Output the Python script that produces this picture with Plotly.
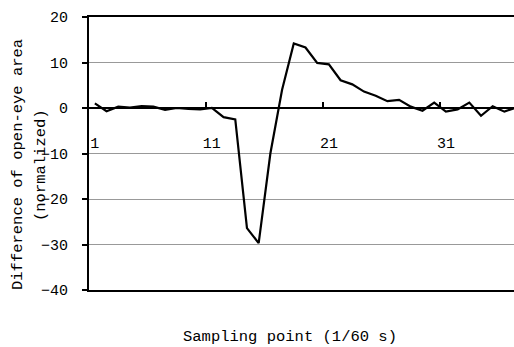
import plotly.graph_objects as go

# Sampling points (1/60 s) and normalized difference of open-eye area
sampling_points = list(range(1, 38))
open_eye_diff = [1.0, -0.7, 0.3, 0.1, 0.4, 0.3, -0.4, 0.0, -0.2, -0.3,
                 0.0, -2.0, -2.5, -26.4, -29.7, -10.0, 4.0, 14.2, 13.3, 9.9,
                 9.6, 6.1, 5.2, 3.6, 2.7, 1.5, 1.8, 0.3, -0.6, 1.2,
                 -0.8, -0.3, 1.2, -1.7, 0.4, -0.8, 0.1]

x_tick_vals = [1, 11, 21, 31]
x_tick_text = ["1", "11", "21", "31"]
x_boundary_ticks = [10.5, 20.5, 30.5]
y_tick_vals = [-40, -30, -20, -10, 0, 10, 20]

FONT = "Liberation Mono"

fig = go.Figure()
fig.add_trace(go.Scatter(
    x=sampling_points, y=open_eye_diff, mode="lines",
    line=dict(color="black", width=2.2),
    showlegend=False, hoverinfo="skip",
))
# helper trace for frame axis
fig.add_trace(go.Scatter(x=[], y=[], xaxis="x2", yaxis="y",
                         showlegend=False, hoverinfo="skip"))

fig.update_layout(
    width=514, height=347,
    margin=dict(l=89, r=0, t=17, b=57),
    paper_bgcolor="white", plot_bgcolor="white",
    font=dict(family=FONT, size=15, color="black"),
    xaxis=dict(
        range=[0.5, 36.82],
        anchor="free", position=40 / 60,
        tickmode="array", tickvals=x_tick_vals, ticktext=x_tick_text,
        ticks="", ticklabelstandoff=21,
        showline=True, linecolor="black", linewidth=2,
        showgrid=False, zeroline=False,
        minor=dict(tickmode="array", tickvals=x_boundary_ticks,
                   ticks="inside", ticklen=5, tickwidth=1.5,
                   tickcolor="black", showgrid=False),
        tickfont=dict(family=FONT, size=15),
    ),
    xaxis2=dict(
        overlaying="x", matches="x", anchor="y", side="bottom",
        showline=True, mirror=True, linecolor="black", linewidth=2,
        showticklabels=False, ticks="", showgrid=False, zeroline=False,
    ),
    yaxis=dict(
        range=[-40, 20], tickmode="array", tickvals=y_tick_vals,
        showline=True, linecolor="black", linewidth=2,
        ticks="outside", ticklen=5, tickwidth=1.5, tickcolor="black",
        ticklabelstandoff=11,
        showgrid=True, gridcolor="#999999", gridwidth=1,
        zeroline=False,
        tickfont=dict(family=FONT, size=15),
    ),
    annotations=[
        dict(text="Difference of open-eye area", xref="paper", yref="paper",
             x=(17.5 - 89) / 425, y=(290 - 164.5) / 273, textangle=-90,
             showarrow=False, xanchor="center", yanchor="middle",
             font=dict(family=FONT, size=15.5)),
        dict(text="(normalized)", xref="paper", yref="paper",
             x=(41 - 89) / 425, y=(290 - 165) / 273, textangle=-90,
             showarrow=False, xanchor="center", yanchor="middle",
             font=dict(family=FONT, size=15.5)),
        dict(text="Sampling point (1/60 s)", xref="paper", yref="paper",
             x=(290 - 89) / 425, y=(290 - 337) / 273,
             showarrow=False, xanchor="center", yanchor="middle",
             font=dict(family=FONT, size=15.5)),
    ],
)

fig.write_html("out.html")
